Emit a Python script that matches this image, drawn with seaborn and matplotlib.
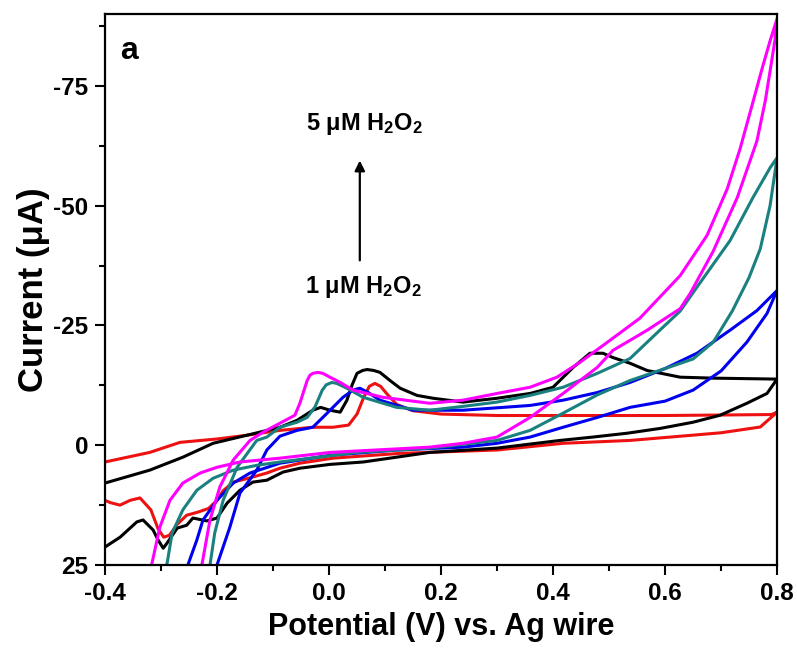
import numpy as np
import pandas as pd
import matplotlib
matplotlib.use("Agg")
import matplotlib.pyplot as plt
import seaborn as sns
from matplotlib.ticker import MultipleLocator

# Cyclic voltammograms, potential (V) / current (uA)
red_E = [-0.40, -0.32, -0.266, -0.20, -0.146, -0.0875, -0.029, 0.007, 0.035, 0.05, 0.062, 0.072, 0.082,
         0.092, 0.105, 0.121, 0.15, 0.20, 0.30, 0.45, 0.60, 0.79, 0.80,
         0.77, 0.70, 0.65, 0.5375, 0.418, 0.30, 0.20, 0.127, 0.007, -0.052, -0.0875, -0.111, -0.141,
         -0.171, -0.189, -0.20, -0.215, -0.235, -0.254, -0.271, -0.285, -0.295, -0.305, -0.318, -0.3375,
         -0.355, -0.373, -0.39, -0.40]
red_I = [3.5, 1.5, -0.6, -1.3, -2.1, -3.1, -3.75, -3.75, -4.2, -6.5, -10.0, -12.3, -12.9,
         -12.3, -10.5, -8.5, -7.2, -6.5, -6.2, -6.2, -6.2, -6.4, -6.9,
         -3.8, -2.6, -2.1, -1.0, -0.4, 1.0, 1.4, 1.7, 2.7, 3.75, 4.8, 5.8, 6.8,
         7.7, 9.5, 11.5, 13.2, 14.0, 14.6, 16.5, 18.8, 19.2, 17.5, 13.5, 11.0,
         11.5, 12.5, 12.0, 11.5]

black_E = [-0.40, -0.32, -0.261, -0.207, -0.146, -0.0875, -0.057, -0.029, -0.015, 0.002, 0.020, 0.032,
           0.041, 0.050, 0.060, 0.068, 0.080, 0.091, 0.109, 0.127, 0.157, 0.186, 0.239, 0.300, 0.359,
           0.400, 0.436, 0.466, 0.489, 0.507, 0.5375, 0.568, 0.627, 0.686, 0.80,
           0.782, 0.746, 0.698, 0.650, 0.591, 0.532, 0.471, 0.4125, 0.300, 0.180, 0.061, 0.002, -0.052,
           -0.082, -0.111, -0.136, -0.159, -0.182, -0.200, -0.218, -0.243, -0.254, -0.271, -0.289,
           -0.296, -0.305, -0.314, -0.332, -0.343, -0.373, -0.40]
black_I = [7.9, 5.2, 2.5, -0.4, -2.1, -3.75, -5.2, -7.3, -7.9, -7.3, -6.9, -9.4,
           -12.5, -15.0, -15.6, -15.8, -15.6, -15.2, -13.5, -11.9, -10.4, -9.8, -9.0, -9.8, -10.8,
           -12.1, -16.25, -19.2, -19.2, -18.3, -17.1, -15.6, -14.2, -14.0, -13.8,
           -10.8, -8.75, -6.25, -4.8, -3.5, -2.5, -1.7, -1.0, 0.6, 1.5, 3.5, 4.0, 4.8,
           5.6, 7.3, 7.7, 9.4, 12.1, 15.2, 15.8, 15.2, 16.7, 17.3, 20.4,
           21.5, 19.8, 17.7, 15.6, 16.0, 19.2, 21.25]

blue_E = [-0.203, -0.200, -0.177, -0.159, -0.129, -0.111, -0.0875, -0.057, -0.029, -0.011, 0.007, 0.025,
          0.043, 0.055, 0.070, 0.091, 0.150, 0.239, 0.359, 0.418, 0.479, 0.5375, 0.600, 0.657, 0.716,
          0.764, 0.80,
          0.782, 0.746, 0.70, 0.65, 0.60, 0.5375, 0.479, 0.418, 0.359, 0.300, 0.239, 0.121, 0.002,
          -0.0875, -0.141, -0.171, -0.200, -0.225, -0.236, -0.252, -0.256]
blue_I = [27.0, 25.0, 17.1, 10.0, 5.2, 1.0, -1.9, -3.1, -3.75, -5.8, -7.9, -10.0,
          -11.5, -11.9, -11.0, -9.4, -7.3, -7.3, -8.3, -9.4, -11.0, -13.1, -16.0, -19.2, -24.0,
          -28.1, -32.3,
          -27.5, -21.5, -15.5, -11.5, -9.2, -7.9, -5.8, -3.75, -1.7, -0.4, 0.4, 1.0, 2.1,
          3.75, 5.8, 7.9, 11.5, 15.6, 19.8, 25.0, 27.0]

teal_E = [-0.216, -0.2125, -0.204, -0.189, -0.164, -0.129, -0.111, -0.0875, -0.057, -0.039, -0.025,
          -0.012, -0.005, 0.005, 0.014, 0.032, 0.061, 0.121, 0.180, 0.239, 0.300, 0.359, 0.418, 0.479,
          0.5375, 0.596, 0.627, 0.645, 0.657, 0.716, 0.757, 0.7875, 0.80,
          0.7875, 0.770, 0.75, 0.72, 0.686, 0.65, 0.5375, 0.479, 0.418, 0.359, 0.300, 0.180, 0.050,
          -0.0875, -0.129, -0.171, -0.207, -0.236, -0.261, -0.280, -0.289, -0.293]
teal_I = [28.0, 25.0, 18.3, 11.5, 4.6, -1.0, -1.7, -3.75, -4.8, -5.8, -8.0,
          -11.5, -12.6, -13.1, -12.9, -11.9, -10.0, -7.9, -7.3, -8.1, -9.0, -10.4, -12.1, -15.0,
          -18.1, -24.6, -28.0, -31.0, -33.0, -42.7, -51.7, -57.9, -60.0,
          -50.0, -41.0, -35.0, -28.0, -21.5, -18.0, -13.5, -10.5, -6.7, -3.1, -1.0, 0.6, 1.5,
          3.5, 4.2, 5.2, 6.9, 9.4, 13.5, 18.3, 24.6, 28.0]

magenta_E = [-0.230, -0.227, -0.2125, -0.195, -0.171, -0.141, -0.118, -0.0875, -0.061, -0.052, -0.039,
             -0.034, -0.029, -0.020, -0.011, 0.000, 0.020, 0.043, 0.096, 0.180, 0.239, 0.300, 0.359,
             0.407, 0.448, 0.489, 0.555, 0.627, 0.675, 0.711, 0.734, 0.755, 0.773, 0.7875, 0.80,
             0.796, 0.789, 0.779, 0.764, 0.729, 0.686, 0.645, 0.627, 0.568, 0.507, 0.479, 0.418, 0.359,
             0.300, 0.239, 0.180, 0.002, -0.0875, -0.159, -0.200, -0.230, -0.261, -0.284, -0.302,
             -0.316, -0.319]
magenta_I = [28.0, 25.0, 15.6, 8.75, 3.1, -1.0, -2.7, -4.6, -6.25, -8.75, -13.5,
             -14.6, -15.0, -15.2, -15.0, -14.3, -13.1, -11.5, -10.0, -8.75, -9.4, -10.8, -12.1,
             -14.2, -17.3, -20.8, -26.5, -35.4, -43.8, -53.5, -61.9, -70.8, -78.5, -84.4, -89.0,
             -84.4, -79.2, -71.9, -63.5, -51.7, -40.5, -31.7, -28.5, -24.0, -19.8, -16.25, -10.8, -5.8,
             -1.7, -0.4, 0.4, 1.5, 2.7, 3.5, 4.6, 5.8, 7.9, 11.5, 17.1,
             24.6, 28.0]

curve_names = ["red", "black", "blue", "teal", "magenta"]
curve_colors = ["#ee1111", "#000000", "#0000ee", "#1a8080", "#ff00ff"]

frames = []
for name, E, I in zip(curve_names,
                      [red_E, black_E, blue_E, teal_E, magenta_E],
                      [red_I, black_I, blue_I, teal_I, magenta_I]):
    frames.append(pd.DataFrame({"E": E, "I": I, "curve": name}))
df = pd.concat(frames, ignore_index=True)

sns.set_style("ticks")
plt.rcParams["font.family"] = ["Liberation Sans", "DejaVu Sans"]
plt.rcParams["font.weight"] = "bold"
plt.rcParams["axes.labelweight"] = "bold"
plt.rcParams["axes.unicode_minus"] = False
plt.rcParams["text.color"] = "black"
plt.rcParams["axes.labelcolor"] = "black"
plt.rcParams["xtick.color"] = "black"
plt.rcParams["ytick.color"] = "black"
plt.rcParams["mathtext.fontset"] = "custom"
plt.rcParams["mathtext.rm"] = "Liberation Sans:bold"
plt.rcParams["mathtext.it"] = "Liberation Sans:bold"
plt.rcParams["mathtext.bf"] = "Liberation Sans:bold"

fig = plt.figure(figsize=(7.97, 6.51), dpi=100)
ax = fig.add_axes([0.1317, 0.1321, 0.8433, 0.8464])

sns.lineplot(data=df, x="E", y="I", hue="curve", palette=dict(zip(curve_names, curve_colors)),
             sort=False, estimator=None, legend=False, linewidth=2.2, ax=ax)
for ln in ax.get_lines():
    ln.set_solid_joinstyle("round")

ax.set_xlim(-0.4, 0.8)
ax.set_ylim(25, -90)
ax.xaxis.set_major_locator(MultipleLocator(0.2))
ax.xaxis.set_minor_locator(MultipleLocator(0.1))
ax.yaxis.set_major_locator(MultipleLocator(25))
ax.yaxis.set_minor_locator(MultipleLocator(12.5))
ax.xaxis.set_major_formatter(plt.FuncFormatter(lambda v, p: f"{v:.1f}"))
ax.tick_params(which="major", length=7, width=1.5, labelsize=17.5, pad=5, colors="black")
ax.tick_params(which="minor", length=4, width=1.5, colors="black")
ax.tick_params(top=False, right=False)
for lbl in ax.get_xticklabels() + ax.get_yticklabels():
    lbl.set_fontweight("bold")
for s in ax.spines.values():
    s.set_linewidth(1.6)
    s.set_color("black")

ax.set_xlabel("Potential (V) vs. Ag wire", fontsize=22, labelpad=5)
ax.set_ylabel("Current (μA)", fontsize=25, labelpad=2)

ax.text(-0.373, -80.6, "a", fontsize=23, fontweight="bold", ha="left", va="baseline")
ax.text(0.064, -67, "5 μM H$_2$O$_2$", fontsize=17, ha="center", va="center")
ax.text(0.061, -33, "1 μM H$_2$O$_2$", fontsize=17, ha="center", va="center")
ax.annotate("", xy=(0.055, -60), xytext=(0.055, -38),
            arrowprops=dict(arrowstyle="-|>", color="black", lw=1.6, mutation_scale=15))

fig.savefig("out.png", dpi=100)
